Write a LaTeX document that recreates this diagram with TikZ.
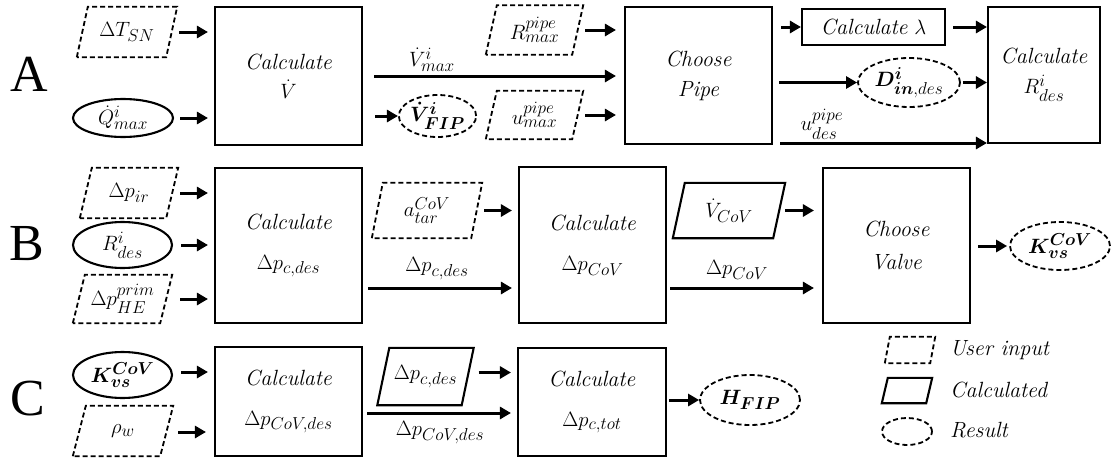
\documentclass[tikz,border=0pt]{standalone}
\usepackage{amsmath,bm}
\usepackage[no-math]{fontspec}
\newfontfamily\letterfont{Liberation Serif}
\DeclareMathSizes{22}{22}{16}{12}
\usetikzlibrary{shapes.geometric,arrows.meta,calc}
\newcommand\parashape[7]{% style, name, pos, w, h, slant, text
  \node[minimum width=#4pt, minimum height=#5pt] (#2) at (#3) {#7};
  \draw[#1] (#2.south west) -- ($(#2.north west)+(#6,0)$) -- (#2.north east) -- ($(#2.south east)+(-#6,0)$) -- cycle;}
\begin{document}
\begin{tikzpicture}[x=1pt,y=-1pt,
  every node/.style={font=\fontsize{22}{26}\selectfont, inner sep=0pt},
  proc/.style={draw, line width=2.1pt, align=center},
  userin/.style={draw, line width=1.8pt, dash pattern=on 5pt off 3pt},
  calced/.style={draw, line width=2.1pt},
  known/.style={ellipse, draw, line width=2.1pt},
  result/.style={ellipse, draw, line width=1.8pt, dash pattern=on 5pt off 3pt},
  arr/.style={-{Triangle[length=11pt,width=12pt]}, line width=3pt},
  big/.style={font=\letterfont\fontsize{52}{52}\selectfont}]
\useasboundingbox (0,0) rectangle (1116,463);

% Row letters
\node[big] (LA) at (29,74) {A};
\node[big] (LB) at (27,244) {B};
\node[big] (LC) at (28,399) {C};

% ---------- Row A ----------
\node[proc, minimum width=147pt, minimum height=138pt] (calcV) at (288.5,76) {\textit{Calculate}\\[3pt]$\dot V$};
\node[proc, minimum width=147pt, minimum height=137pt] (pipe) at (698.5,75.5) {\textit{Choose}\\[4pt]\textit{Pipe}};
\node[proc, minimum width=143pt, minimum height=36pt] (lam) at (873.5,27) {\textit{Calculate} $\lambda$};
\node[proc, minimum width=112pt, minimum height=136pt] (Rd) at (1044,75) {\textit{Calculate}\\[4pt]$R^i_{des}$};

\parashape{userin}{dT}{127,32}{100}{50}{11}{$\Delta T_{SN}$}
\node[known, minimum width=100pt, minimum height=38pt] (Q) at (123,118) {$\dot Q^i_{max}$};
\parashape{userin}{Rmax}{534.5,30}{97}{49}{11}{$R^{pipe}_{max}$}
\node[result, minimum width=75pt, minimum height=42pt] (VFIP) at (437.5,116) {$\bm{\dot V}^{\bm{i}}_{\bm{FIP}}$};
\parashape{userin}{umax}{534.5,115}{97}{48}{11}{$u^{pipe}_{max}$}
\node[result, minimum width=102pt, minimum height=49pt] (D) at (909,82.5) {$\bm{D}^{\bm{i}}_{\bm{in},des}$};

\draw[arr, shorten >=6pt] ([xshift=2pt]dT.east) -- (dT.east -| calcV.west);
\draw[arr, shorten >=6pt] ([xshift=6pt]Q.east) -- (Q.east -| calcV.west);
\draw[arr, shorten <=11pt, shorten >=8pt] (calcV.east) -- (calcV.east -| pipe.west);
\node (lvmax) at (432,60) {$\dot V^i_{max}$};
\draw[arr, shorten <=12pt] (calcV.east |- VFIP.west) -- (VFIP.west);
\draw[arr, shorten >=8pt] ([xshift=2pt]Rmax.east) -- (Rmax.east -| pipe.west);
\draw[arr, shorten >=8pt] ([xshift=2pt]umax.east) -- (umax.east -| pipe.west);
\draw[arr, shorten <=8pt] (pipe.east |- lam.west) -- (lam.west);
\draw[arr, shorten <=7pt] (lam.east) -- (lam.east -| Rd.west);
\draw[arr, shorten <=6pt] (pipe.east |- D.west) -- (D.west);
\draw[arr, shorten <=2pt] (D.east) -- (D.east -| Rd.west);
\coordinate (ud) at (780,143);
\draw[arr] (ud) -- (ud -| Rd.west);
\node (lud) at (822,124) {$u^{pipe}_{des}$};

% ---------- Row B ----------
\node[proc, minimum width=147pt, minimum height=155pt] (B1) at (288.5,245.5) {\textit{Calculate}\\[14pt]$\Delta p_{c,des}$};
\node[proc, minimum width=147pt, minimum height=156pt] (B2) at (592.5,245) {\textit{Calculate}\\[14pt]$\Delta p_{CoV}$};
\node[proc, minimum width=147pt, minimum height=155pt] (valve) at (896.5,245.5) {\textit{Choose}\\[7pt]\textit{Valve}};

\parashape{userin}{pir}{129,193}{98}{50}{12}{$\Delta p_{ir}$}
\node[known, minimum width=99pt, minimum height=46pt] (Rin) at (122.5,245) {$R^i_{des}$};
\parashape{userin}{pHE}{122.5,299}{99}{48}{12}{$\Delta p^{prim}_{HE}$}
\parashape{userin}{a}{427,210.5}{110}{55}{11}{$a^{CoV}_{tar}$}
\parashape{calced}{VCoV}{729,210.5}{112}{55}{12}{$\dot V_{CoV}$}
\node[result, minimum width=100pt, minimum height=48pt] (Kr) at (1060,246) {$\bm{K}^{\bm{CoV}}_{\bm{vs}}$};

\draw[arr, shorten >=6pt] ([xshift=2pt]pir.east) -- (pir.east -| B1.west);
\draw[arr, shorten >=6pt] ([xshift=8pt]Rin.east) -- (Rin.east -| B1.west);
\draw[arr, shorten >=6pt] ([xshift=8pt]pHE.east) -- (pHE.east -| B1.west);
\draw[arr, shorten >=6pt] ([xshift=2pt]a.east) -- (a.east -| B2.west);
\coordinate (b1o) at (368,288);
\draw[arr, shorten >=6pt] (b1o) -- (b1o -| B2.west);
\node (lpcd) at (437,269) {$\Delta p_{c,des}$};
\draw[arr, shorten >=8pt] (VCoV.east) -- (VCoV.east -| valve.west);
\coordinate (b2o) at (670,288);
\draw[arr, shorten >=8pt] (b2o) -- (b2o -| valve.west);
\node (lpcov) at (737,270) {$\Delta p_{CoV}$};
\draw[arr, shorten <=7pt, shorten >=2pt] (valve.east |- Kr.west) -- (Kr.west);

% ---------- Row C ----------
\node[proc, minimum width=147pt, minimum height=109pt] (C1) at (288.5,401.5) {\textit{Calculate}\\[14pt]$\Delta p_{CoV,des}$};
\node[proc, minimum width=148pt, minimum height=108pt] (C2) at (592,402) {\textit{Calculate}\\[14pt]$\Delta p_{c,tot}$};

\node[known, minimum width=99pt, minimum height=46pt] (Kin) at (122.5,375) {$\bm{K}^{\bm{CoV}}_{\bm{vs}}$};
\parashape{userin}{rho}{123,431}{100}{50}{13}{$\rho_w$}
\parashape{calced}{pcd}{425.5,376.5}{96}{57}{12}{$\Delta p_{c,des}$}
\node[result, minimum width=100pt, minimum height=50pt] (H) at (750,400) {$\bm{H}_{\bm{FIP}}$};

\coordinate (kc) at ($(Kin.east)+(8,-3)$);
\draw[arr, shorten >=6pt] (kc) -- (kc -| C1.west);
\coordinate (rc) at ($(rho.east)+(5,1)$);
\draw[arr, shorten >=8pt] (rc) -- (rc -| C1.west);
\coordinate (pc) at ($(pcd.east)+(5,-4)$);
\draw[arr, shorten >=6pt] (pc) -- (pc -| C2.west);
\coordinate (c1o) at (367,413);
\draw[arr, shorten >=6pt] (c1o) -- (c1o -| C2.west);
\node (lpcovd) at (440,433) {$\Delta p_{CoV,des}$};
\draw[arr, shorten <=2pt] (C2.east |- H.west) -- (H.west);

% ---------- Legend ----------
\parashape{userin}{lg1}{910,350}{50}{26}{5}{}
\parashape{calced}{lg2}{907,390.5}{50}{25}{6}{}
\node[result, minimum width=50pt, minimum height=27pt] (lg3) at (907,431.5) {};
\node[anchor=west] (t1) at (950,350) {\textit{User input}};
\node[anchor=west] (t2) at (950,390) {\textit{Calculated}};
\node[anchor=west] (t3) at (950,430) {\textit{Result}};
\end{tikzpicture}
\end{document}
